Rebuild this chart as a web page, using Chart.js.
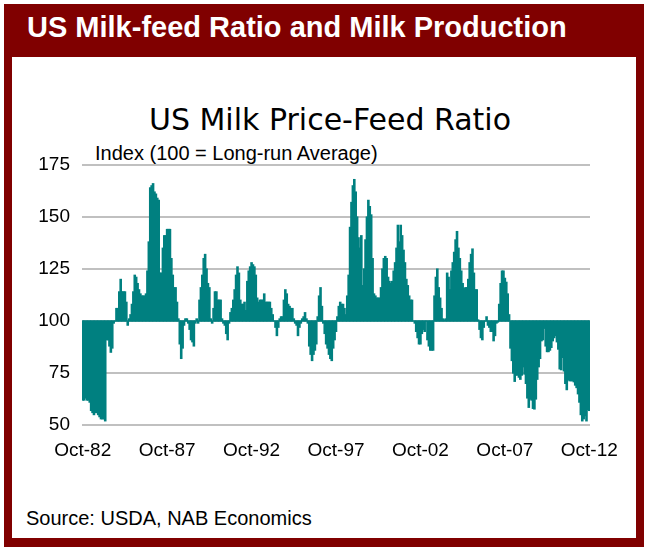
<!DOCTYPE html>
<html lang="en">
<head>
<meta charset="UTF-8">
<title>US Milk Price-Feed Ratio</title>
<script src="https://cdn.jsdelivr.net/npm/chart.js"></script>
<style>
  html, body { margin: 0; padding: 0; background: #fff; }
  body { width: 647px; height: 549px; position: relative; overflow: hidden; font-family: "Liberation Sans", Arial, sans-serif; }
  .frame { position: absolute; left: 4px; top: 4px; width: 640px; height: 543px; background: #800000; }
  .panel { position: absolute; left: 12px; top: 57px; width: 624px; height: 481px; background: #fff; }
  .header { position: absolute; left: 27px; top: 10px; color: #fff; font-weight: bold; font-size: 29px; line-height: 34px; white-space: nowrap; }
  .title { position: absolute; left: 0; width: 660px; top: 103px; text-align: center; font-family: "DejaVu Sans", sans-serif; font-size: 30px; line-height: 34px; color: #000; }
  .subtitle { position: absolute; left: 95px; top: 142px; font-size: 20px; line-height: 22px; color: #000; white-space: nowrap; }
  .source { position: absolute; left: 26px; top: 506px; font-size: 20px; line-height: 24px; color: #000; white-space: nowrap; }
  .chart-box { position: absolute; left: 30px; top: 155px; width: 605px; height: 310px; }
</style>
</head>
<body>
<div class="frame"></div>
<div class="panel"></div>
<div class="header">US Milk-feed Ratio and Milk Production</div>
<div class="title">US Milk Price-Feed Ratio</div>
<div class="subtitle">Index (100 = Long-run Average)</div>
<div class="chart-box"><canvas id="ratioChart"></canvas></div>
<div class="source">Source: USDA, NAB Economics</div>

<script>
// monthly milk price-feed ratio index, Oct-82 .. Oct-12 (100 = long-run average)
const ratio = [
  62, 62, 63, 62, 62, 61, 57, 56, 55, 56, 56, 55,
  54, 53, 53, 53, 52, 91, 91, 88, 85, 87, 99, 100,
  106, 106, 114, 120, 114, 114, 114, 109, 98, 101, 103, 108,
  114, 122, 121, 118, 115, 113, 112, 112, 112, 113, 124, 138,
  164, 165, 166, 162, 161, 159, 158, 123, 123, 135, 141, 141,
  144, 144, 144, 130, 122, 116, 116, 109, 101, 89, 82, 87,
  98, 101, 101, 99, 96, 91, 90, 88, 99, 101, 99, 110,
  116, 122, 130, 132, 125, 118, 116, 101, 99, 106, 114, 114,
  110, 110, 110, 101, 99, 98, 94, 91, 99, 104, 106, 110,
  115, 122, 126, 123, 110, 108, 108, 109, 105, 119, 124, 126,
  128, 127, 126, 122, 111, 109, 110, 110, 110, 113, 109, 109,
  109, 109, 106, 103, 100, 97, 93, 97, 101, 102, 102, 110,
  115, 113, 108, 107, 106, 106, 101, 99, 98, 93, 97, 99,
  101, 102, 104, 101, 99, 88, 84, 81, 84, 86, 89, 102,
  112, 116, 107, 99, 94, 89, 87, 84, 82, 81, 87, 91,
  95, 102, 107, 109, 108, 108, 106, 103, 112, 122, 145, 157,
  165, 168, 162, 150, 140, 135, 141, 117, 125, 139, 150, 158,
  155, 151, 130, 113, 112, 111, 111, 111, 116, 125, 130, 131,
  130, 121, 119, 118, 119, 124, 128, 135, 146, 138, 146, 141,
  134, 128, 120, 117, 112, 110, 110, 100, 99, 95, 92, 89,
  89, 94, 96, 95, 100, 91, 88, 86, 86, 86, 112, 121,
  125, 116, 111, 106, 101, 100.5, 101, 123, 121, 115, 124, 128,
  133, 139, 143, 135, 130, 124, 118, 115.5, 116, 116, 120, 128,
  132, 134.6, 123, 115, 115, 100.5, 96, 92, 91, 97, 100, 102,
  98, 97, 95, 95, 90.5, 93, 99, 99.5, 108, 118, 124, 124,
  120.5, 118.6, 113, 103, 87, 81, 75, 71, 74, 74, 73, 72,
  74, 78, 74.5, 70, 63, 58.5, 62.5, 62, 58, 57.7, 62.5, 72,
  78, 82, 90.5, 91, 96.5, 88, 85.3, 85.3, 86, 87.3, 90.5, 92,
  93, 90, 86.5, 77, 76.6, 82.5, 76, 70, 67, 71.8, 71.3, 71.3,
  71.3, 70.8, 69.2, 68, 65, 61, 55, 52, 53, 54.5, 52, 57.4,
  57
];
const baseline = 100;
const tickLabels = ['Oct-82', 'Oct-87', 'Oct-92', 'Oct-97', 'Oct-02', 'Oct-07', 'Oct-12'];
const yTicks = [50, 75, 100, 125, 150, 175];

const monthNames = ['Jan','Feb','Mar','Apr','May','Jun','Jul','Aug','Sep','Oct','Nov','Dec'];
// category labels, one per month starting Oct-82
const months = ratio.map((v, i) => {
  const m = (9 + i) % 12;
  const yr = (82 + Math.floor((9 + i) / 12)) % 100;
  return monthNames[m] + '-' + String(yr).padStart(2, '0');
});

new Chart(document.getElementById('ratioChart'), {
  type: 'bar',
  data: {
    labels: months,
    datasets: [{
      data: ratio.map(v => [baseline, v]),
      backgroundColor: '#008080',
      borderWidth: 0,
      inflateAmount: 0.6,
      barPercentage: 1,
      categoryPercentage: 1
    }]
  },
  options: {
    responsive: true,
    maintainAspectRatio: false,
    animation: false,
    layout: { padding: { top: 10, right: 45, bottom: 0, left: 0 } },
    plugins: { legend: { display: false }, tooltip: { enabled: false } },
    scales: {
      x: {
        grid: { display: false, drawTicks: false },
        border: { display: false },
        ticks: {
          autoSkip: false,
          maxRotation: 0,
          padding: 14,
          color: '#000',
          font: { family: 'Liberation Sans', size: 19 },
          callback: function (val) {
            const lab = this.getLabelForValue(val);
            return tickLabels.includes(lab) ? lab : null;
          }
        },
        // keep the plot edges fixed, labels may overhang
        afterFit: s => { s.height = 40; s.paddingLeft = 0; s.paddingRight = 0; }
      },
      y: {
        min: 50,
        max: 175,
        afterBuildTicks: s => { s.ticks = yTicks.map(v => ({ value: v })); },
        grid: { color: '#c0c0c0', lineWidth: 2, drawTicks: false },
        border: { display: false },
        ticks: {
          padding: 12,
          color: '#000',
          font: { family: 'Liberation Sans', size: 19 }
        },
        afterFit: s => { s.width = 52; s.paddingTop = 0; s.paddingBottom = 0; }
      }
    }
  }
});
</script>
</body>
</html>
